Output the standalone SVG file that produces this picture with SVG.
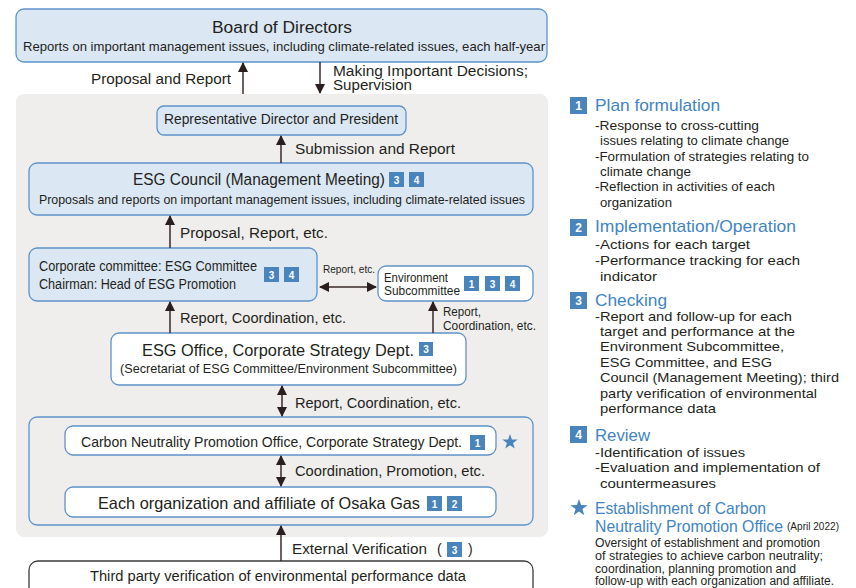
<svg xmlns="http://www.w3.org/2000/svg" width="856" height="588" viewBox="0 0 856 588">
<style>
text{font-family:"Liberation Sans",Arial,sans-serif;fill:#231f20}
.bx{fill:#dce7f4;stroke:#5d93c9;stroke-width:1.3}
.wb{fill:#fff;stroke:#5d93c9;stroke-width:1.3}
.bd rect{fill:#4a84bd}
.bd text{fill:#fff;font-size:10px;font-weight:bold;text-anchor:middle}
.rb rect{fill:#4a84bd}
.rb text{fill:#fff;font-size:12px;font-weight:bold;text-anchor:middle}
.h{fill:#4184c4;font-size:17px}
.t{font-size:13px}
.s{font-size:12px}
.c{stroke:#3a2a2a;stroke-width:1.5;fill:none}
</style>
<defs>
<marker id="ah" viewBox="0 0 10 10" refX="9" refY="5" markerWidth="10" markerHeight="10" markerUnits="userSpaceOnUse" orient="auto-start-reverse">
<path d="M0,0 L10,5 L0,10 z" fill="#2a1e1e"/>
</marker>
<symbol id="star" viewBox="-10 -10 20 20"><path d="M0,-9 L2.1,-2.9 L8.6,-2.8 L3.4,1.1 L5.3,7.3 L0,3.6 L-5.3,7.3 L-3.4,1.1 L-8.6,-2.8 L-2.1,-2.9 z" fill="#4a84bd"/></symbol>
</defs>

<rect x="16" y="94" width="532" height="443" rx="8" fill="#efeeec"/>

<g id="board">
<rect class="bx" x="16" y="9" width="531" height="53" rx="8"/>
<text x="282" y="33" font-size="16" text-anchor="middle" textLength="140" lengthAdjust="spacingAndGlyphs">Board of Directors</text>
<text x="23" y="51" font-size="13.5" textLength="522" lengthAdjust="spacingAndGlyphs">Reports on important management issues, including climate-related issues, each half-year</text>
</g>

<g id="president">
<rect class="bx" x="157" y="106" width="249" height="29" rx="7"/>
<text x="164" y="124" font-size="14.5" textLength="234" lengthAdjust="spacingAndGlyphs">Representative Director and President</text>
</g>

<g id="esg-council">
<rect class="bx" x="29" y="163" width="504" height="52" rx="8"/>
<text x="133" y="185" font-size="16" textLength="252" lengthAdjust="spacingAndGlyphs">ESG Council (Management Meeting)</text>
<g class="bd"><rect x="389" y="172" width="15" height="15"/><text x="396.5" y="183.5">3</text><rect x="409" y="172" width="15" height="15"/><text x="416.5" y="183.5">4</text></g>
<text x="39" y="204" font-size="13" textLength="486" lengthAdjust="spacingAndGlyphs">Proposals and reports on important management issues, including climate-related issues</text>
</g>

<g id="esg-committee">
<rect class="bx" x="29" y="248" width="288" height="53" rx="8"/>
<text x="39" y="271" font-size="14" textLength="218" lengthAdjust="spacingAndGlyphs">Corporate committee: ESG Committee</text>
<text x="39" y="289" font-size="14" textLength="197" lengthAdjust="spacingAndGlyphs">Chairman: Head of ESG Promotion</text>
<g class="bd"><rect x="264" y="267" width="15" height="15"/><text x="271.5" y="278.5">3</text><rect x="284" y="267" width="15" height="15"/><text x="291.5" y="278.5">4</text></g>
</g>

<g id="env-subcommittee">
<rect class="wb" x="378" y="266" width="155" height="35" rx="8"/>
<text x="384" y="281.5" font-size="12.5" textLength="64" lengthAdjust="spacingAndGlyphs">Environment</text>
<text x="384" y="295" font-size="12.5" textLength="76" lengthAdjust="spacingAndGlyphs">Subcommittee</text>
<g class="bd"><rect x="464" y="276" width="15" height="15"/><text x="471.5" y="287.5">1</text><rect x="485" y="276" width="15" height="15"/><text x="492.5" y="287.5">3</text><rect x="505" y="276" width="15" height="15"/><text x="512.5" y="287.5">4</text></g>
</g>

<g id="esg-office">
<rect class="wb" x="111" y="333" width="355" height="52" rx="8"/>
<text x="142" y="356" font-size="16.5" textLength="272" lengthAdjust="spacingAndGlyphs">ESG Office, Corporate Strategy Dept.</text>
<g class="bd"><rect x="419" y="342" width="14" height="14"/><text x="426" y="353">3</text></g>
<text x="120" y="373" font-size="13" textLength="337" lengthAdjust="spacingAndGlyphs">(Secretariat of ESG Committee/Environment Subcommittee)</text>
</g>

<g id="operations-group">
<rect x="29" y="417" width="504" height="108" rx="8" fill="#efeeec" stroke="#5d93c9" stroke-width="1.3"/>
</g>

<g id="carbon-office">
<rect class="wb" x="65" y="426" width="431" height="29" rx="8"/>
<text x="81" y="447" font-size="14.5" textLength="381" lengthAdjust="spacingAndGlyphs">Carbon Neutrality Promotion Office, Corporate Strategy Dept.</text>
<g class="bd"><rect x="470" y="435" width="15" height="15"/><text x="477.5" y="446.5">1</text></g>
<use href="#star" x="501" y="433" width="18" height="18"/>
</g>

<g id="each-org">
<rect class="wb" x="65" y="487" width="431" height="30" rx="8"/>
<text x="98" y="509" font-size="16.5" textLength="322" lengthAdjust="spacingAndGlyphs">Each organization and affiliate of Osaka Gas</text>
<g class="bd"><rect x="427" y="496" width="15" height="15"/><text x="434.5" y="507.5">1</text><rect x="447" y="496" width="15" height="15"/><text x="454.5" y="507.5">2</text></g>
</g>

<g id="third-party">
<rect x="29" y="561" width="504" height="45" rx="9" fill="#fff" stroke="#3a3a3a" stroke-width="1.3"/>
<text x="90" y="581" font-size="14" textLength="376" lengthAdjust="spacingAndGlyphs">Third party verification of environmental performance data</text>
</g>

<g id="connectors">
<line class="c" x1="243" y1="94" x2="243" y2="63" marker-end="url(#ah)"/>
<line class="c" x1="320" y1="62" x2="320" y2="93" marker-end="url(#ah)"/>
<line class="c" x1="281" y1="163" x2="281" y2="136" marker-end="url(#ah)"/>
<line class="c" x1="170" y1="248" x2="170" y2="216" marker-end="url(#ah)"/>
<line class="c" x1="320" y1="287" x2="376" y2="287" marker-start="url(#ah)" marker-end="url(#ah)"/>
<line class="c" x1="170" y1="333" x2="170" y2="302" marker-end="url(#ah)"/>
<line class="c" x1="433" y1="333" x2="433" y2="302" marker-end="url(#ah)"/>
<line class="c" x1="282" y1="386" x2="282" y2="416" marker-start="url(#ah)" marker-end="url(#ah)"/>
<line class="c" x1="281" y1="456" x2="281" y2="486" marker-start="url(#ah)" marker-end="url(#ah)"/>
<line class="c" x1="281" y1="561" x2="281" y2="526" marker-end="url(#ah)"/>
<text x="231" y="84" font-size="14" text-anchor="end" textLength="140" lengthAdjust="spacingAndGlyphs">Proposal and Report</text>
<text x="333" y="76" font-size="14" textLength="195" lengthAdjust="spacingAndGlyphs">Making Important Decisions;</text>
<text x="333" y="90" font-size="14" textLength="79" lengthAdjust="spacingAndGlyphs">Supervision</text>
<text x="295" y="154" font-size="14" textLength="160" lengthAdjust="spacingAndGlyphs">Submission and Report</text>
<text x="180" y="238" font-size="14" textLength="148" lengthAdjust="spacingAndGlyphs">Proposal, Report, etc.</text>
<text x="323" y="273" font-size="11" textLength="52" lengthAdjust="spacingAndGlyphs">Report, etc.</text>
<text x="180" y="323" font-size="14" textLength="166" lengthAdjust="spacingAndGlyphs">Report, Coordination, etc.</text>
<text x="443" y="316" font-size="12.5" textLength="38" lengthAdjust="spacingAndGlyphs">Report,</text>
<text x="443" y="330" font-size="12.5" textLength="93" lengthAdjust="spacingAndGlyphs">Coordination, etc.</text>
<text x="295" y="408" font-size="14" textLength="166" lengthAdjust="spacingAndGlyphs">Report, Coordination, etc.</text>
<text x="295" y="476" font-size="14" textLength="190" lengthAdjust="spacingAndGlyphs">Coordination, Promotion, etc.</text>
<text x="292" y="554" font-size="14" textLength="135" lengthAdjust="spacingAndGlyphs">External Verification</text>
<text x="437" y="554" font-size="14">(</text>
<g class="bd"><rect x="447" y="542" width="15" height="15"/><text x="454.5" y="553.5">3</text></g>
<text x="468" y="554" font-size="14">)</text>
</g>

<g id="legend">
<g class="rb"><rect x="570" y="97" width="17" height="17"/><text x="578.5" y="110">1</text></g>
<text class="h" x="595" y="111" textLength="125" lengthAdjust="spacingAndGlyphs">Plan formulation</text>
<text class="t" x="595" y="130" textLength="164" lengthAdjust="spacingAndGlyphs">-Response to cross-cutting</text>
<text class="t" x="600" y="145" textLength="189" lengthAdjust="spacingAndGlyphs">issues relating to climate change</text>
<text class="t" x="595" y="161" textLength="214" lengthAdjust="spacingAndGlyphs">-Formulation of strategies relating to</text>
<text class="t" x="600" y="176" textLength="91" lengthAdjust="spacingAndGlyphs">climate change</text>
<text class="t" x="595" y="191" textLength="180" lengthAdjust="spacingAndGlyphs">-Reflection in activities of each</text>
<text class="t" x="600" y="207" textLength="72" lengthAdjust="spacingAndGlyphs">organization</text>

<g class="rb"><rect x="570" y="219" width="17" height="17"/><text x="578.5" y="232">2</text></g>
<text class="h" x="595" y="232" textLength="201" lengthAdjust="spacingAndGlyphs">Implementation/Operation</text>
<text class="t" x="595" y="249" textLength="155" lengthAdjust="spacingAndGlyphs">-Actions for each target</text>
<text class="t" x="595" y="265" textLength="205" lengthAdjust="spacingAndGlyphs">-Performance tracking for each</text>
<text class="t" x="600" y="281" textLength="57" lengthAdjust="spacingAndGlyphs">indicator</text>

<g class="rb"><rect x="570" y="292" width="17" height="17"/><text x="578.5" y="305">3</text></g>
<text class="h" x="595" y="306" textLength="72" lengthAdjust="spacingAndGlyphs">Checking</text>
<text class="t" x="595" y="321" textLength="197" lengthAdjust="spacingAndGlyphs">-Report and follow-up for each</text>
<text class="t" x="600" y="336" textLength="195" lengthAdjust="spacingAndGlyphs">target and performance at the</text>
<text class="t" x="600" y="351" textLength="184" lengthAdjust="spacingAndGlyphs">Environment Subcommittee,</text>
<text class="t" x="600" y="367" textLength="172" lengthAdjust="spacingAndGlyphs">ESG Committee, and ESG</text>
<text class="t" x="600" y="382" textLength="239" lengthAdjust="spacingAndGlyphs">Council (Management Meeting); third</text>
<text class="t" x="600" y="398" textLength="217" lengthAdjust="spacingAndGlyphs">party verification of environmental</text>
<text class="t" x="600" y="413" textLength="116" lengthAdjust="spacingAndGlyphs">performance data</text>

<g class="rb"><rect x="570" y="426" width="17" height="17"/><text x="578.5" y="439">4</text></g>
<text class="h" x="595" y="441" textLength="55" lengthAdjust="spacingAndGlyphs">Review</text>
<text class="t" x="595" y="457" textLength="150" lengthAdjust="spacingAndGlyphs">-Identification of issues</text>
<text class="t" x="595" y="472" textLength="225" lengthAdjust="spacingAndGlyphs">-Evaluation and implementation of</text>
<text class="t" x="600" y="488" textLength="116" lengthAdjust="spacingAndGlyphs">countermeasures</text>

<use href="#star" x="569" y="498" width="20" height="20"/>
<text class="h" x="595" y="514" textLength="171" lengthAdjust="spacingAndGlyphs">Establishment of Carbon</text>
<text class="h" x="595" y="532" textLength="188" lengthAdjust="spacingAndGlyphs">Neutrality Promotion Office</text>
<text x="787" y="530" font-size="10" textLength="52" lengthAdjust="spacingAndGlyphs">(April 2022)</text>
<text class="s" x="595" y="547" textLength="225" lengthAdjust="spacingAndGlyphs">Oversight of establishment and promotion</text>
<text class="s" x="595" y="560" textLength="228" lengthAdjust="spacingAndGlyphs">of strategies to achieve carbon neutrality;</text>
<text class="s" x="595" y="573" textLength="201" lengthAdjust="spacingAndGlyphs">coordination, planning promotion and</text>
<text class="s" x="595" y="585" textLength="239" lengthAdjust="spacingAndGlyphs">follow-up with each organization and affiliate.</text>
</g>
</svg>
